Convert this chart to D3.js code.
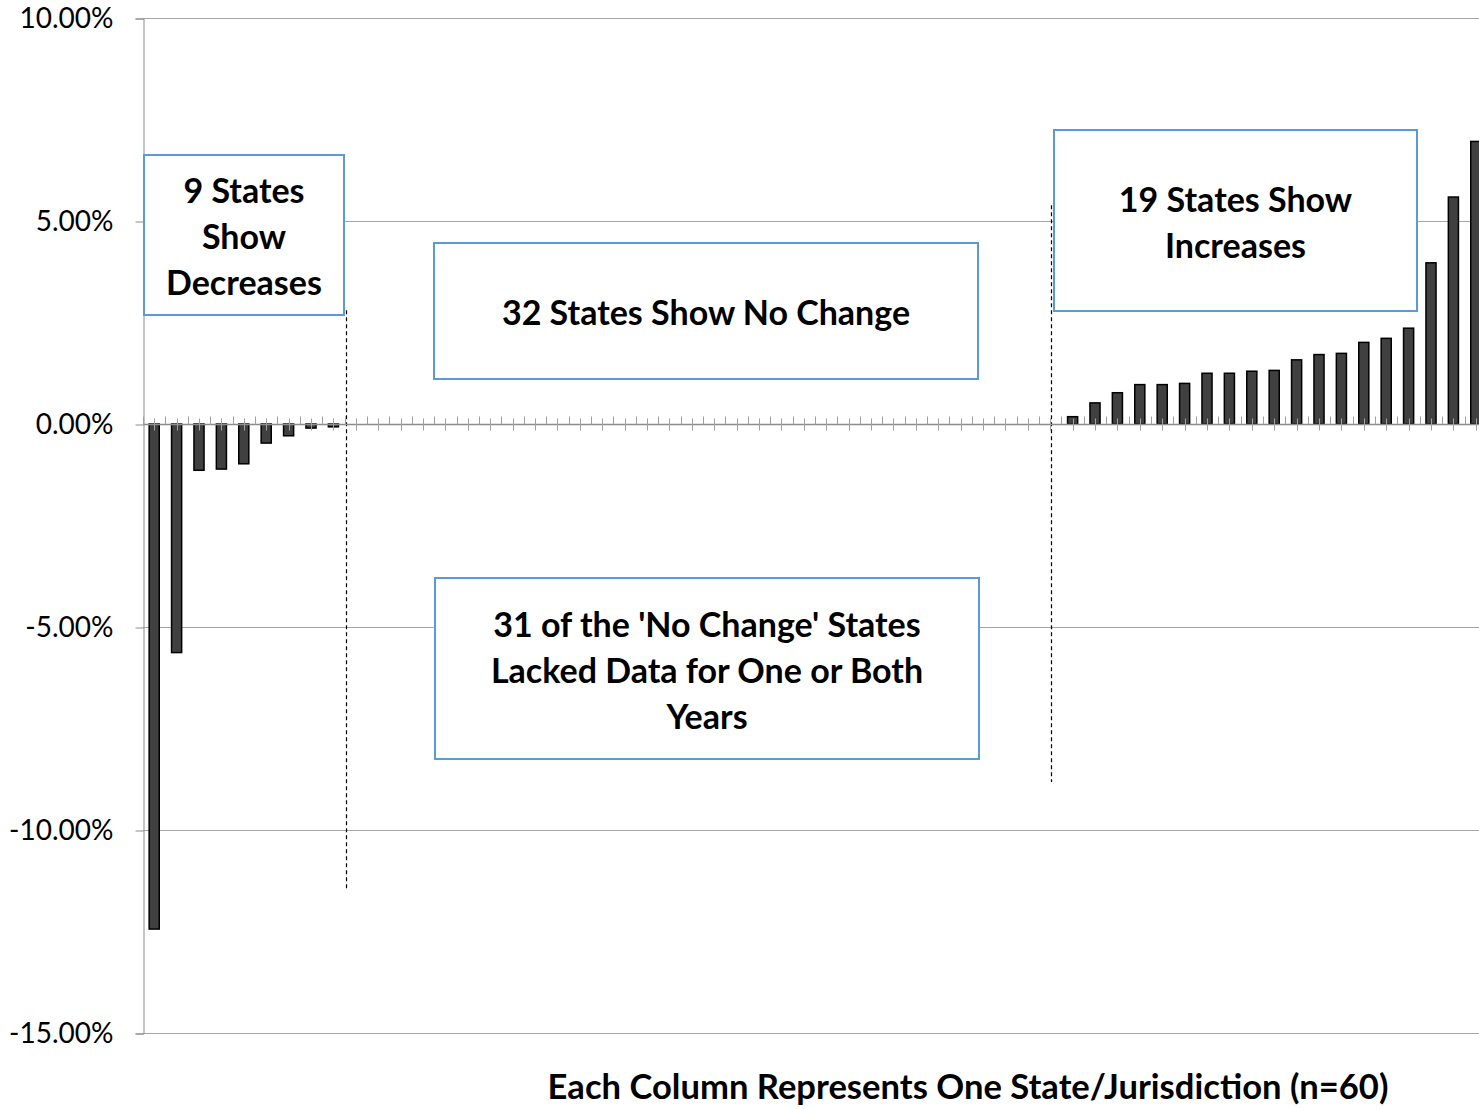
<!DOCTYPE html>
<html>
<head>
<meta charset="utf-8">
<script src="https://cdn.jsdelivr.net/npm/d3@7"></script>
<style>
  body { margin: 0; background: #fff; }
  text { font-family: Lato, "Noto Sans", sans-serif; }
</style>
</head>
<body>
<div id="chart"></div>
<script>
// percent change per state, sorted (9 down, 32 no change, 19 up)
var decreases = [-12.44, -5.63, -1.14, -1.11, -0.98, -0.47, -0.29, -0.10, -0.07];
var noChange = [0, 0, 0, 0, 0, 0, 0, 0, 0, 0, 0, 0, 0, 0, 0, 0,
                0, 0, 0, 0, 0, 0, 0, 0, 0, 0, 0, 0, 0, 0, 0, 0];
var increases = [0.18, 0.52, 0.77, 0.97, 0.97, 1.00, 1.25, 1.25, 1.30, 1.32,
                 1.58, 1.71, 1.74, 2.01, 2.11, 2.36, 3.97, 5.59, 6.96];
var yTicks = [10, 5, 0, -5, -10, -15];
var xTitle = "Each Column Represents One State/Jurisdiction (n=60)";
var notes = [
	{lines: ["9 States", "Show", "Decreases"]},
	{lines: ["32 States Show No Change"]},
	{lines: ["31 of the 'No Change' States", "Lacked Data for One or Both", "Years"]},
	{lines: ["19 States Show", "Increases"]}
];

var values = decreases.concat(noChange).concat(increases);
var data = values.map(function (v, i) { return {i: i, value: v}; });

var W = 1479, H = 1109;
var plotLeft = 143, plotTop = 18, plotBottom = 1033, step = 22.4;

var svg = d3.select("#chart").append("svg").attr("width", W).attr("height", H);

var x = d3.scaleBand().domain(d3.range(values.length))
	.range([plotLeft, plotLeft + step * values.length])
	.paddingInner(0.55).paddingOuter(0.275);
var y = d3.scaleLinear().domain([-15, 10]).range([plotBottom, plotTop]);

// gridlines
svg.append("g").selectAll("line").data(yTicks).enter().append("line")
	.attr("x1", plotLeft).attr("x2", W)
	.attr("y1", function (d) { return Math.round(y(d)) + 0.5; })
	.attr("y2", function (d) { return Math.round(y(d)) + 0.5; })
	.attr("stroke", "#a6a6a6").attr("stroke-width", 1);

// y axis
var yAxis = svg.append("g").attr("transform", "translate(" + (plotLeft + 0.5) + ",0.5)")
	.call(d3.axisLeft(y).tickValues(yTicks).tickSize(8).tickPadding(22)
		.tickFormat(function (d) { return d.toFixed(2) + "%"; }));
yAxis.select(".domain").attr("stroke", "#8c8c8c");
yAxis.selectAll(".tick line").attr("stroke", "#8c8c8c");
yAxis.selectAll(".tick text").attr("fill", "#000").style("font-size", "28px")
	.style("font-family", "Lato, sans-serif");

// annotation dashed lines
var dashes = [{pos: 9.06, from: 2.8, to: -11.48}, {pos: 40.55, from: 5.39, to: -8.82}];
svg.append("g").selectAll("line").data(dashes).enter().append("line")
	.attr("x1", function (d) { return Math.round(plotLeft + d.pos * step) + 0.5; })
	.attr("x2", function (d) { return Math.round(plotLeft + d.pos * step) + 0.5; })
	.attr("y1", function (d) { return y(d.from); })
	.attr("y2", function (d) { return y(d.to); })
	.attr("stroke", "#000").attr("stroke-width", 1.2).attr("stroke-dasharray", "4,3");

// bars
svg.append("g").selectAll("rect").data(data.filter(function (d) { return d.value !== 0; }))
	.enter().append("rect")
	.attr("x", function (d) { return x(d.i); })
	.attr("width", x.bandwidth())
	.attr("y", function (d) { return y(Math.max(0, d.value)); })
	.attr("height", function (d) { return Math.abs(y(d.value) - y(0)); })
	.attr("fill", "#404040").attr("stroke", "#000").attr("stroke-width", 1.5);

// category axis at zero, crossing ticks at centers, upward ticks at boundaries
var zeroY = Math.round(y(0)) + 0.5;
var xAx = svg.append("g");
xAx.append("line").attr("x1", plotLeft).attr("x2", W).attr("y1", zeroY).attr("y2", zeroY)
	.attr("stroke", "#8c8c8c").attr("stroke-width", 1.5);
xAx.selectAll("line.mid").data(data).enter().append("line").attr("class", "mid")
	.attr("x1", function (d) { return Math.round(x(d.i) + x.bandwidth() / 2) + 0.5; })
	.attr("x2", function (d) { return Math.round(x(d.i) + x.bandwidth() / 2) + 0.5; })
	.attr("y1", zeroY - 6).attr("y2", zeroY + 6)
	.attr("stroke", "#a0a0a0").attr("stroke-width", 1);
xAx.selectAll("line.edge").data(data).enter().append("line").attr("class", "edge")
	.attr("x1", function (d) { return Math.round(plotLeft + d.i * step) + 0.5; })
	.attr("x2", function (d) { return Math.round(plotLeft + d.i * step) + 0.5; })
	.attr("y1", zeroY - 8).attr("y2", zeroY)
	.attr("stroke", "#a0a0a0").attr("stroke-width", 1);

// text boxes
var boxes = [
	{x: 144, y: 155, w: 200, h: 160, cy: 191},
	{x: 434, y: 243, w: 544, h: 136, cy: 313},
	{x: 435, y: 578, w: 544, h: 181, cy: 625},
	{x: 1054, y: 130, w: 363, h: 181, cy: 200}
];
notes.forEach(function (n, k) {
	var b = boxes[k];
	var g = svg.append("g");
	g.append("rect").attr("x", b.x).attr("y", b.y).attr("width", b.w).attr("height", b.h)
		.attr("fill", "#fff").attr("stroke", "#5b9bd5").attr("stroke-width", 2);
	g.selectAll("text").data(n.lines).enter().append("text")
		.attr("x", b.x + b.w / 2)
		.attr("y", function (d, j) { return b.cy + j * 46; })
		.attr("dy", "0.35em")
		.attr("text-anchor", "middle")
		.style("font-size", "34px").style("font-weight", "bold")
		.text(function (d) { return d; });
});

// x title
svg.append("text").attr("x", 968).attr("y", 1087).attr("dy", "0.35em")
	.attr("text-anchor", "middle")
	.style("font-size", "34.6px").style("font-weight", "bold")
	.text(xTitle);
</script>
</body>
</html>
